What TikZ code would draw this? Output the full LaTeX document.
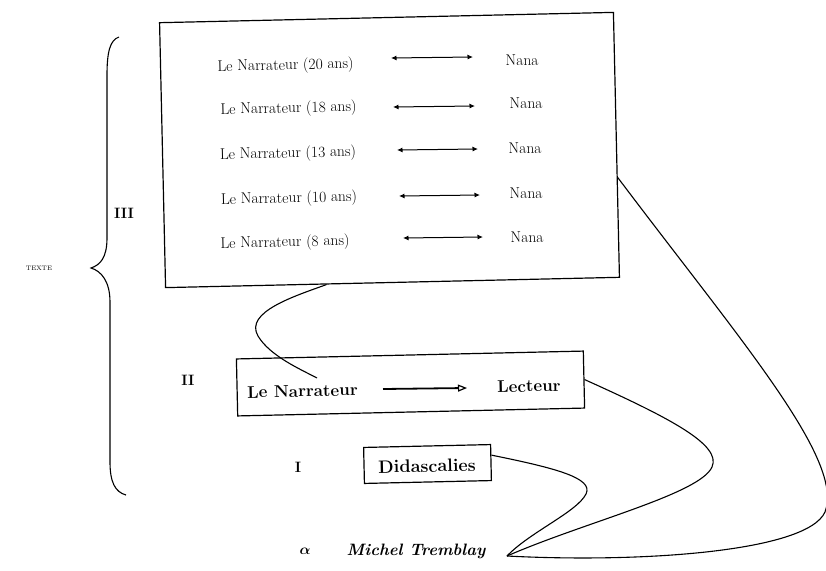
\documentclass[tikz,border=0pt]{standalone}
\usepackage{bm}
\usetikzlibrary{arrows.meta,calc}
\begin{document}
\begin{tikzpicture}[x=1pt,y=-1pt,
  frame/.style={draw,line width=1.2pt,inner sep=0pt,rotate=1.3},
  rowtext/.style={font=\fontsize{15.5}{17}\selectfont,inner sep=0pt,rotate=1.3},
  boldtext/.style={font=\fontsize{17}{19}\selectfont\bfseries,inner sep=0pt,rotate=1.3},
  level/.style={font=\fontsize{15}{17}\selectfont\bfseries,inner sep=0pt},
  pair/.style={line width=1pt,{Latex[length=5.5pt,width=5pt]}-{Latex[length=5.5pt,width=5pt]}},
  link/.style={line width=1.1pt}]
\useasboundingbox (0,0) rectangle (826,570);

% outer frame of level III
\node[frame,minimum width=454pt,minimum height=265pt] (big) at (389.5,150) {};

% the five narrator / Nana rows
\node[rowtext] (n20) at (285.5,66) {Le Narrateur (20 ans)};
\node[rowtext] (n18) at (288.5,109) {Le Narrateur (18 ans)};
\node[rowtext] (n13) at (288,154) {Le Narrateur (13 ans)};
\node[rowtext] (n10) at (289,199) {Le Narrateur (10 ans)};
\node[rowtext] (n8)  at (285,243) {Le Narrateur (8 ans)};
\node[rowtext] (a20) at (522,60) {Nana};
\node[rowtext] (a18) at (526,103) {Nana};
\node[rowtext] (a13) at (525,148) {Nana};
\node[rowtext] (a10) at (526,193) {Nana};
\node[rowtext] (a8)  at (527,237) {Nana};
\coordinate (p20l) at (391,58);  \coordinate (p20r) at (473,57);
\coordinate (p18l) at (393,107); \coordinate (p18r) at (475,106);
\coordinate (p13l) at (397,150); \coordinate (p13r) at (478,149);
\coordinate (p10l) at (399,196); \coordinate (p10r) at (480,195);
\coordinate (p8l)  at (403,238); \coordinate (p8r)  at (483,237);
\foreach \r in {20,18,13,10,8} \draw[pair] (p\r l) -- (p\r r);

% level II
\node[frame,minimum width=347pt,minimum height=57pt] (two) at (410.5,383.5) {};
\node[boldtext] (narr) at (302.5,391) {Le Narrateur};
\node[boldtext] (lect) at (529,386) {Lecteur};
\coordinate (ql) at (383,389); \coordinate (qr) at (467,388);
\draw[line width=1.8pt,-{Triangle[open,length=9pt,width=7pt,line width=1.2pt]}] (ql) -- (qr);

% level I
\node[frame,minimum width=127pt,minimum height=36pt] (dida) at (427.5,464) {};
\node[boldtext,font=\fontsize{18}{20}\selectfont\bfseries] (didat) at (427,466) {Didascalies};

% level labels
\node[level] (lIII) at (124,213) {III};
\node[level] (lII) at (188,380) {II};
\node[level] (lI) at (298,467) {I};
\node[level] (lalpha) at (305,551) {$\bm{\alpha}$};
\node[font=\fontsize{16.5}{18}\selectfont\bfseries\itshape,inner sep=0pt] (mt) at (416,551) {Michel Tremblay};
\node[font=\fontsize{6.5}{8}\selectfont,inner sep=0pt] (texte) at (39,268) {TEXTE};

% brace grouping the levels
\draw[line width=1.1pt] (119,37) .. controls (110,40) and (107,52) .. (107,75)
  -- (107,238) .. controls (107,258) and (100,265) .. (91,268)
  .. controls (101,271) and (110,281) .. (110,302)
  -- (110,462) .. controls (110,482) and (115,492) .. (126,495);

% connectors
\coordinate (inner) at (317,378);
\coordinate (conv) at (507,556);
\draw[link] ($(big.south west)!0.355!(big.south east)$)
  .. controls (295,296) and (244,312) .. (258,336)
  .. controls (270,356) and (300,369) .. (inner);
\draw[link] ($(big.south east)!0.377!(big.north east)$)
  .. controls (740,340) and (845,460) .. (825,512)
  .. controls (807,552) and (640,563) .. (conv);
\draw[link] (two.east)
  .. controls (670,418) and (722,445) .. (712,467)
  .. controls (700,494) and (585,522) .. (conv);
\draw[link] ($(dida.north east)!0.3!(dida.south east)$)
  .. controls (555,468) and (594,478) .. (586,494)
  .. controls (577,512) and (530,532) .. (conv);
\end{tikzpicture}
\end{document}
